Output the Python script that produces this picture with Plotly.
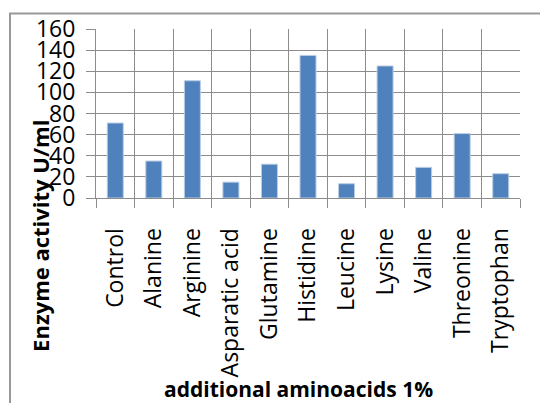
import plotly.graph_objects as go

# Enzyme activity (U/ml) after adding 1% of each amino acid
aminoacids = ["Control", "Alanine", "Arginine", "Asparatic acid", "Glutamine",
              "Histidine", "Leucine", "Lysine", "Valine", "Threonine", "Tryptophan"]
activity = [71, 35, 111, 15, 32, 135, 13.5, 125, 29, 61, 23]
y_ticks = [0, 20, 40, 60, 80, 100, 120, 140, 160]

FONT = "Open Sans"
GRID = "#8c8c8c"

fig = go.Figure(go.Bar(
    x=aminoacids,
    y=activity,
    marker=dict(color="#4F81BD", line=dict(color="#B9CDE5", width=1)),
))

fig.update_layout(
    width=540, height=403,
    margin=dict(l=96, r=20, t=24, b=205),
    paper_bgcolor="white", plot_bgcolor="white",
    bargap=0.585,
    showlegend=False,
    font=dict(family=FONT, color="black"),
)

fig.update_xaxes(
    type="category",
    tickson="boundaries",
    showgrid=True, gridcolor=GRID, gridwidth=1,
    ticks="outside", ticklen=9, tickcolor=GRID, tickwidth=1,
    showline=True, linecolor=GRID, linewidth=1,
    tickangle=-90,
    tickfont=dict(family=FONT, size=23, color="black"),
    ticklabelstandoff=20,
)

fig.update_yaxes(
    range=[0, 160],
    tickvals=y_ticks,
    showgrid=True, gridcolor=GRID, gridwidth=1,
    ticks="outside", ticklen=9, tickcolor=GRID, tickwidth=1,
    showline=True, linecolor=GRID, linewidth=1,
    zeroline=False,
    tickfont=dict(family=FONT, size=23, color="black"),
    ticklabelstandoff=6,
)

# Axis titles
fig.add_annotation(
    text="<b>Enzyme activity U/ml</b>", textangle=-90,
    xref="paper", yref="paper", x=(40 - 96) / 424, y=(198 - 237) / 174,
    xanchor="center", yanchor="middle", showarrow=False,
    font=dict(family=FONT, size=22, color="black"),
)
fig.add_annotation(
    text="<b>additional aminoacids 1%</b>",
    xref="paper", yref="paper", x=(298 - 96) / 424, y=(198 - 395) / 174,
    xanchor="center", yanchor="middle", showarrow=False,
    font=dict(family=FONT, size=21, color="black"),
)

# Chart frame
fig.add_shape(
    type="rect", xref="paper", yref="paper",
    x0=(10 - 96) / 424, x1=1.2, y0=-1.3, y1=(198 - 8) / 174,
    line=dict(color="#999999", width=2), layer="above",
)

fig.write_html("out.html")
